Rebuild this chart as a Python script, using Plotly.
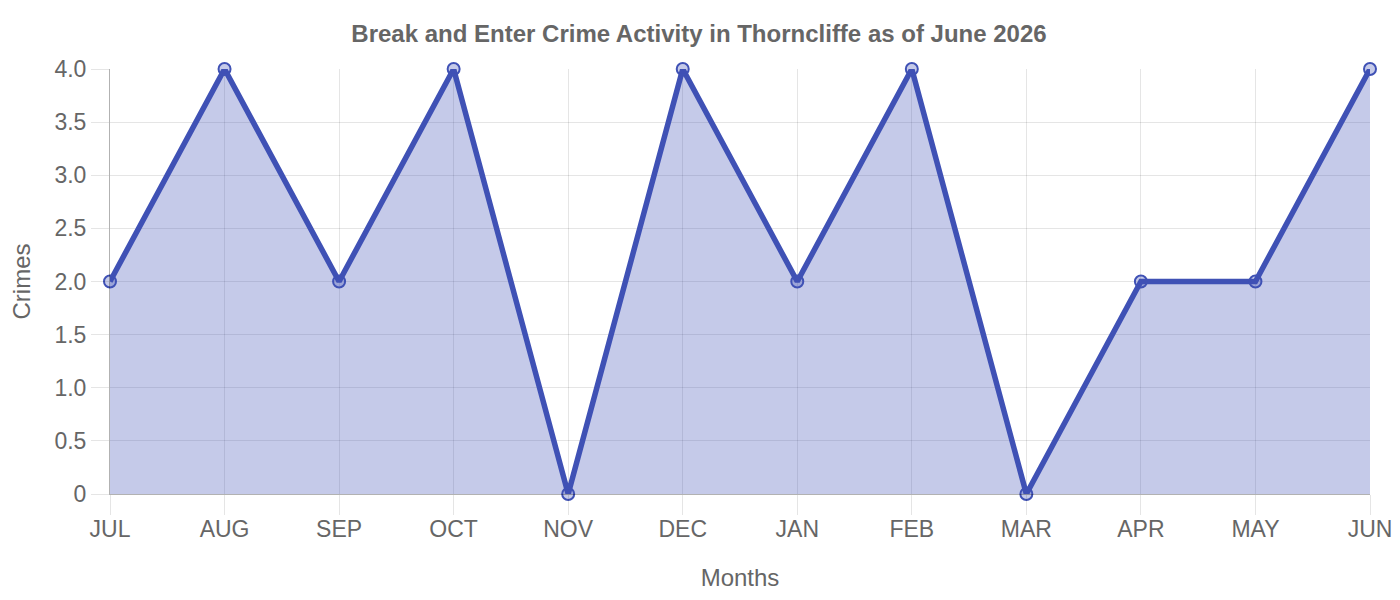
import plotly.graph_objects as go

months = ['JUL', 'AUG', 'SEP', 'OCT', 'NOV', 'DEC', 'JAN', 'FEB', 'MAR', 'APR', 'MAY', 'JUN']
crimes = [2, 4, 2, 4, 0, 4, 2, 4, 0, 2, 2, 4]
y_ticks = [0, 0.5, 1.0, 1.5, 2.0, 2.5, 3.0, 3.5, 4.0]
y_labels = ['0', '0.5', '1.0', '1.5', '2.0', '2.5', '3.0', '3.5', '4.0']

line_color = '#3f51b5'
font_family = 'Liberation Sans, Arial, sans-serif'

fig = go.Figure()
fig.add_trace(go.Scatter(
    x=months,
    y=crimes,
    mode='lines+markers',
    fill='tozeroy',
    fillcolor='rgba(63,81,181,0.3)',
    line=dict(color=line_color, width=5.5),
    marker=dict(size=12, color='rgba(63,81,181,0.3)', line=dict(color=line_color, width=2)),
    cliponaxis=False,
    showlegend=False,
))

# page body has an 8px margin, so the figure is a bit smaller than the window
fig.update_layout(
    template='plotly_white',
    width=1392,
    height=592,
    paper_bgcolor='white',
    plot_bgcolor='white',
    font=dict(family=font_family, color='#666', size=23),
    title=dict(
        text='<b>Break and Enter Crime Activity in Thorncliffe as of June 2026</b>',
        x=0.4964,
        xanchor='center',
        y=0.956,
        yanchor='middle',
        font=dict(size=24, color='#666', family=font_family),
    ),
    margin=dict(l=102, r=30, t=61, b=106, pad=0),
)
fig.update_xaxes(
    title=dict(text='Months', font=dict(size=24, color='#666'), standoff=28),
    showgrid=True,
    gridcolor='rgba(0,0,0,0.1)',
    showline=True,
    linecolor='rgba(0,0,0,0.3)',
    linewidth=1,
    ticks='outside',
    ticklen=20,
    ticklabelstandoff=-6,
    tickcolor='rgba(0,0,0,0.1)',
    tickfont=dict(size=23, color='#666'),
    range=[0, len(months) - 1],
    zeroline=False,
    automargin=False,
)
fig.update_yaxes(
    title=dict(text='Crimes', font=dict(size=24, color='#666'), standoff=22),
    range=[0, 4],
    tickvals=y_ticks,
    ticktext=y_labels,
    showgrid=True,
    gridcolor='rgba(0,0,0,0.1)',
    showline=True,
    linecolor='rgba(0,0,0,0.3)',
    linewidth=1,
    ticks='outside',
    ticklen=18,
    tickcolor='rgba(0,0,0,0.1)',
    tickfont=dict(size=23, color='#666'),
    zeroline=False,
    automargin=False,
)

fig.write_html('out.html')
